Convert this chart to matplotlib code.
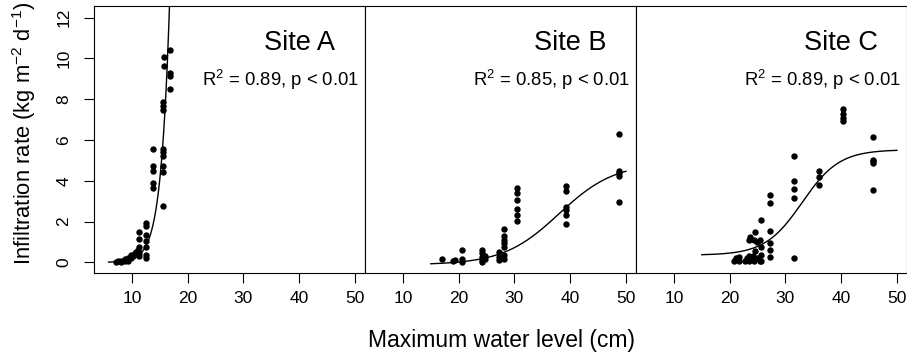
import matplotlib
matplotlib.use("Agg")
import matplotlib.pyplot as plt
import numpy as np

plt.rcParams['font.family'] = ['Liberation Sans', 'DejaVu Sans']
plt.rcParams['mathtext.fontset'] = 'custom'
plt.rcParams['mathtext.rm'] = 'Liberation Sans'
plt.rcParams['mathtext.it'] = 'Liberation Sans:italic'

# observed infiltration rate vs maximum water level
a_x = [7.1, 7.5, 8.0, 8.0, 8.7, 8.7, 9.3, 9.3, 9.9, 9.9, 10.2, 10.5, 10.8, 11.1,
       11.3, 11.3, 11.3, 11.3, 11.3, 12.5, 12.5, 12.5, 12.5, 12.5, 12.5, 12.5,
       13.7, 13.7, 13.7, 13.7, 13.7, 15.6, 15.6, 15.6, 15.6, 15.6, 15.6, 15.6,
       15.6, 15.6, 15.8, 15.8, 16.9, 16.9, 16.9, 16.9]
a_y = [0.03, 0.05, 0.08, 0.0, 0.15, 0.05, 0.2, 0.05, 0.2, 0.35, 0.3, 0.45, 0.5, 0.6,
       1.5, 1.13, 0.75, 0.47, 0.3, 1.92, 1.78, 1.34, 1.05, 0.75, 0.36, 0.2,
       5.55, 4.7, 4.5, 3.88, 3.65, 2.77, 4.45, 4.7, 5.2, 5.4, 5.55, 7.45,
       7.65, 7.85, 9.62, 10.05, 10.4, 9.27, 9.15, 8.5]

b_x = [17.0, 19.0, 19.4, 20.6, 20.6, 20.6, 24.2, 24.2, 24.2, 24.2, 24.2, 24.8, 24.8,
       27.3, 27.3, 27.3, 28.2, 28.2, 28.2, 28.2, 28.2, 28.2, 28.2,
       30.4, 30.4, 30.4, 30.4, 30.4, 30.4, 39.2, 39.2, 39.2, 39.2, 39.2, 39.2,
       48.7, 48.7, 48.7, 48.7, 48.7]
b_y = [0.15, 0.08, 0.1, 0.62, 0.15, 0.02, 0.62, 0.45, 0.28, 0.12, 0.0, 0.3, 0.15,
       0.5, 0.28, 0.1, 1.65, 1.28, 1.1, 0.95, 0.75, 0.35, 0.15,
       3.65, 3.42, 3.06, 2.6, 2.33, 2.03, 3.72, 3.5, 2.72, 2.54, 2.3, 1.9,
       6.3, 4.5, 4.38, 4.22, 2.98]

c_x = [20.7, 21.1, 21.6, 21.6, 22.7, 23.1, 23.4, 23.4, 23.5, 23.7, 23.7, 24.1,
       24.3, 24.3, 24.6, 24.6, 24.9, 24.9, 25.5, 25.5, 25.7, 25.7, 25.7, 25.7,
       27.3, 27.3, 27.3, 27.3, 27.3, 27.3, 31.6, 31.6, 31.6, 31.6, 31.6,
       36.1, 36.1, 36.1, 40.4, 40.4, 40.4, 40.4, 45.7, 45.7, 45.7, 45.7, 45.7]
c_y = [0.06, 0.2, 0.28, 0.08, 0.06, 0.2, 0.3, 0.08, 1.1, 1.23, 0.15, 0.3,
       0.06, 1.1, 1.5, 0.55, 1.0, 0.2, 1.1, 0.08, 2.08, 0.77, 0.36, 0.06,
       3.31, 2.93, 1.55, 0.96, 0.62, 0.25, 5.2, 4.01, 3.59, 3.15, 0.2,
       4.46, 4.18, 3.8, 7.5, 7.25, 7.08, 6.95, 6.13, 5.03, 4.95, 4.87, 3.56]

sites = ['Site A', 'Site B', 'Site C']
r2_labels = ['0.89', '0.85', '0.89']
xticks = [10, 20, 30, 40, 50]
yticks = [0, 2, 4, 6, 8, 10, 12]

# fitted model curves
def fit_a(x):
    return 2.37e-4 * np.exp(0.65 * x)

def fit_b(x):
    return -0.12 + 5.0 / (1 + np.exp(-0.2 * (x - 38)))

def fit_c(x):
    return 0.35 + 5.17 / (1 + np.exp(-0.3 * (x - 33)))

panels = [
    (a_x, a_y, fit_a, np.linspace(5.8, 17.5, 200)),
    (b_x, b_y, fit_b, np.linspace(15, 50, 200)),
    (c_x, c_y, fit_c, np.linspace(15, 50, 200)),
]

fig = plt.figure(figsize=(9.07, 3.53), dpi=100)
w = 271 / 907
lefts = [94 / 907, 94 / 907 + w, 94 / 907 + 2 * w]
bottom = 1 - 273 / 353
h = 267 / 353

for i, (xs, ys, fit, xc) in enumerate(panels):
    ax = fig.add_axes([lefts[i], bottom, w, h])
    ax.plot(xc, fit(xc), color='black', lw=1.0)
    ax.plot(xs, ys, 'o', color='black', ms=4.6, mew=0)
    ax.set_xlim(3.2, 51.8)
    ax.set_ylim(-0.524, 12.564)
    ax.set_xticks(xticks)
    ax.tick_params(axis='x', direction='out', length=7.2, width=0.8,
                   labelsize=12.5, pad=6)
    if i == 0:
        ax.set_yticks(yticks)
        ax.tick_params(axis='y', direction='out', length=7.2, width=0.8,
                       labelsize=12.5, pad=9, labelrotation=90)
        for lab in ax.get_yticklabels():
            lab.set_va('center')
    else:
        ax.set_yticks([])
    for s in ax.spines.values():
        s.set_linewidth(0.8)
    ax.text(40, 10.41, sites[i], fontsize=19.5, ha='center', va='baseline')
    ax.text(36.6, 8.64, r'R$^2$ = ' + r2_labels[i] + ', p < 0.01',
            fontsize=13.3, ha='center', va='baseline')

fig.text(501 / 907, 1 - 347 / 353, 'Maximum water level (cm)',
         fontsize=16.5, ha='center', va='baseline')
fig.text(10 / 907, 1 - 133 / 353, r'Infiltration rate (kg m$^{-2}$ d$^{-1}$)',
         fontsize=15.8, ha='left', va='center', rotation=90)

fig.savefig('out.png', dpi=100)
